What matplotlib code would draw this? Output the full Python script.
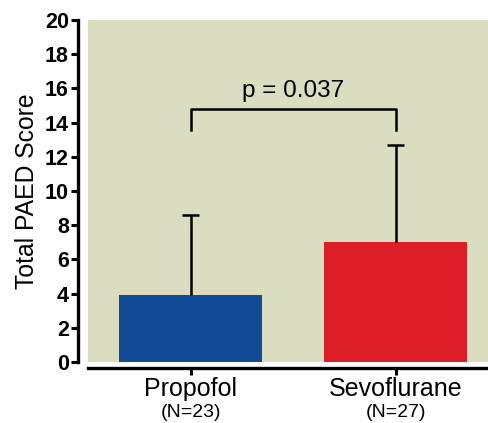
import numpy as np
import matplotlib.pyplot as plt

groups = ['Propofol', 'Sevoflurane']
group_n = ['(N=23)', '(N=27)']
means = [3.9, 7.0]
sds = [4.7, 5.7]
bar_colors = ['#124c96', '#dc1f26']
p_text = 'p = 0.037'
bracket_y = 14.8
bracket_leg = 13.55
y_ticks = np.arange(0, 21, 2)

plt.rcParams['font.family'] = ['Liberation Sans', 'DejaVu Sans']

fig = plt.figure(figsize=(4.88, 4.23), dpi=100)
ax = fig.add_axes([88/488, 1-362/423, 400/488, 342/423])
ax.set_facecolor('#dcdcc0')

x = np.arange(len(groups))
ax.bar(x, means, width=0.70, color=bar_colors, zorder=2)
# upper half of the error bars only
tops = np.array(means) + np.array(sds)
ax.vlines(x, means, tops, color='black', lw=1.8, zorder=3)
ax.hlines(tops, x - 0.04, x + 0.04, color='black', lw=1.8, zorder=3)

# significance bracket
ax.plot([x[0], x[0], x[1], x[1]], [bracket_leg, bracket_y, bracket_y, bracket_leg],
        color='black', lw=1.8, zorder=3)
ax.text((x[0]+x[1])/2, 15.5, p_text, ha='center', va='baseline', fontsize=17.5)

for s in ['top', 'right']:
    ax.spines[s].set_visible(False)
ax.spines['left'].set_position(('outward', 7.2))
ax.spines['bottom'].set_position(('outward', 4.3))
ax.spines['left'].set_linewidth(2.4)
ax.spines['bottom'].set_linewidth(2.4)
ax.tick_params(axis='both', width=2.2, length=5, pad=1.5)
ax.tick_params(axis='y', labelsize=15.5)
ax.tick_params(axis='x', labelsize=18)

ax.set_xlim(-0.5, 1.45)
ax.set_ylim(0, 20)
ax.set_yticks(y_ticks)
ax.set_yticklabels([str(t) for t in y_ticks])
for lab in ax.get_yticklabels():
    lab.set_fontweight('bold')
ax.set_xticks(x)
ax.set_xticklabels(groups)
for xi, n in zip(x, group_n):
    ax.text(xi, -0.124, n, transform=ax.get_xaxis_transform(), ha='center', va='top',
            fontsize=14)

ax.set_ylabel('Total PAED Score', fontsize=17.8, labelpad=4)

fig.savefig('out.png', dpi=100)
